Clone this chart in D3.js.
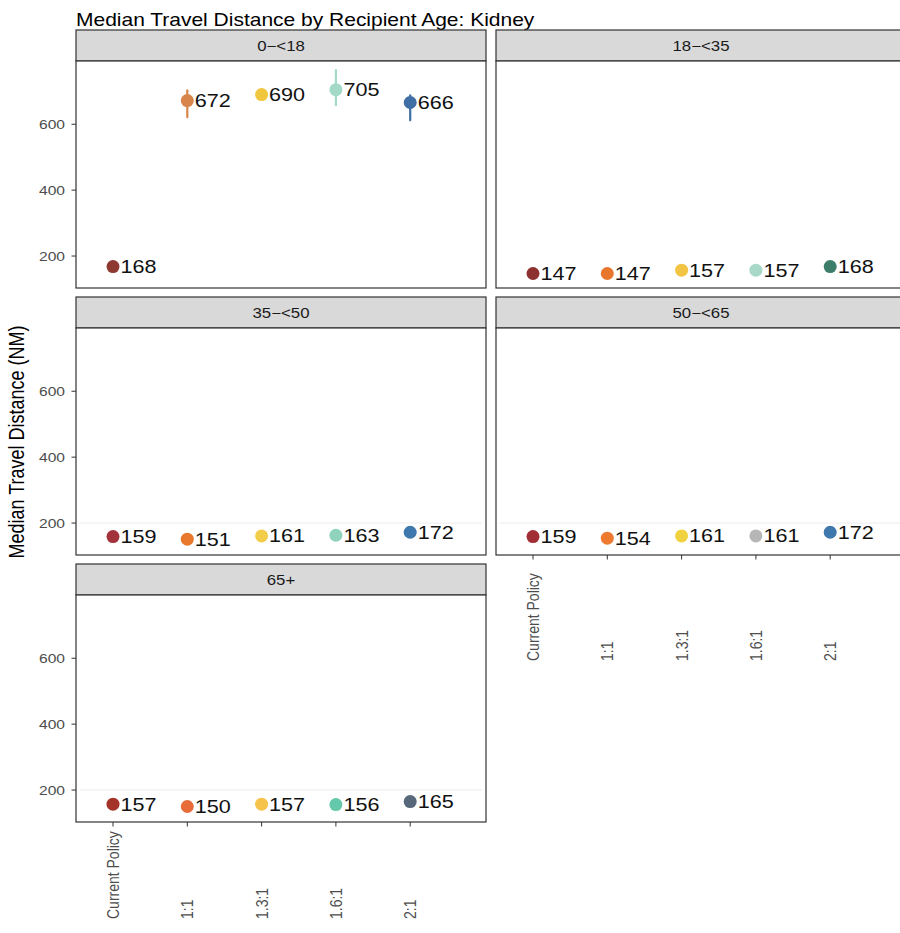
<!DOCTYPE html>
<html>
<head>
<meta charset="utf-8">
<script src="https://cdn.jsdelivr.net/npm/d3@7"></script>
<style>
  body { margin: 0; background: #fff; }
  svg { display: block; font-family: "Liberation Sans", Arial, Helvetica, sans-serif; }
</style>
</head>
<body>
<svg id="chart" width="900" height="933"></svg>
<script>
// ---- data ----
const ageGroups = ["0\u2212<18", "18\u2212<35", "35\u2212<50", "50\u2212<65", "65+"];
const policies = ["Current Policy", "1:1", "1.3:1", "1.6:1", "2:1"];

const dist_0_18  = [168, 672, 690, 705, 666];
const dist_18_35 = [147, 147, 157, 157, 168];
const dist_35_50 = [159, 151, 161, 163, 172];
const dist_50_65 = [159, 154, 161, 161, 172];
const dist_65up  = [157, 150, 157, 156, 165];

// interval bounds for the youngest group (the only ones that show beyond the dots)
const low_0_18  = [161, 621, 682, 658, 612];
const high_0_18 = [175, 703, 698, 764, 688];

const yTicks = [200, 400, 600];

// ---- colours per panel ----
const colors_0_18  = ["#8e3a31", "#d8854b", "#f1c63f", "#a3d9c7", "#3f6fa5"];
const colors_18_35 = ["#8d3030", "#e8772d", "#f3c444", "#a8d8c8", "#3d7e6b"];
const colors_35_50 = ["#a3333a", "#e8782b", "#f2cd49", "#8fd3bd", "#3f78ad"];
const colors_50_65 = ["#a12d35", "#ee7a2f", "#efd23e", "#b6b6b6", "#3f78ad"];
const colors_65up  = ["#a4332a", "#e86c3a", "#f6c34b", "#63c9aa", "#566879"];

const panels = [
  { age: ageGroups[0], values: dist_0_18,  lo: low_0_18, hi: high_0_18, colors: colors_0_18 },
  { age: ageGroups[1], values: dist_18_35, lo: null, hi: null, colors: colors_18_35 },
  { age: ageGroups[2], values: dist_35_50, lo: null, hi: null, colors: colors_35_50 },
  { age: ageGroups[3], values: dist_50_65, lo: null, hi: null, colors: colors_50_65 },
  { age: ageGroups[4], values: dist_65up,  lo: null, hi: null, colors: colors_65up }
];

// ---- layout ----
const SX = 1.2;              // horizontal text stretch
const colLeft = [76, 496];
const rowTop = [30, 297, 564];
const panelW = 410, stripH = 31, plotH = 227;
const border = "#333333";

const svg = d3.select("#chart");

const x = d3.scalePoint().domain(policies).range([37, 37 + 4 * 74.3]);
const y = d3.scaleLinear().domain([103, 792]).range([plotH, 0]);

function stretchedText(g, tx, ty, str, opts) {
  return g.append("text")
    .attr("transform", `translate(${tx},${ty}) scale(${SX},1)` + (opts.rotate ? ` rotate(${opts.rotate})` : ""))
    .attr("text-anchor", opts.anchor || "start")
    .attr("dy", opts.dy || null)
    .attr("font-size", opts.size)
    .attr("fill", opts.fill || "#000")
    .text(str);
}

// title
stretchedText(svg, 76, 26, "Median Travel Distance by Recipient Age: Kidney", { size: 17.5, fill: "#000" });

// y-axis title
stretchedText(svg, 24, 442, "Median Travel Distance (NM)", { size: 18, anchor: "middle", rotate: -90, fill: "#000" });

panels.forEach((p, i) => {
  const col = i % 2, row = Math.floor(i / 2);
  const left = colLeft[col], top = rowTop[row];
  const g = svg.append("g").attr("transform", `translate(${left},${top})`);

  // strip
  g.append("rect").attr("x", 0).attr("y", 0).attr("width", panelW).attr("height", stripH)
    .attr("fill", "#d9d9d9").attr("stroke", border).attr("stroke-width", 1.2);
  stretchedText(g, panelW / 2, stripH / 2, p.age, { size: 14, anchor: "middle", dy: "0.36em", fill: "#1a1a1a" });

  // plot area
  const pg = g.append("g").attr("transform", `translate(0,${stripH})`);
  pg.append("rect").attr("x", 0).attr("y", 0).attr("width", panelW).attr("height", plotH)
    .attr("fill", "#fff");

  // faint reference line at the lowest tick
  if (i >= 2) {
    pg.append("line").attr("x1", 4).attr("x2", panelW - 4)
      .attr("y1", y(yTicks[0])).attr("y2", y(yTicks[0]))
      .attr("stroke", "#ececec").attr("stroke-width", 1);
  }

  // intervals
  if (p.lo) {
    pg.selectAll("line.err").data(policies).join("line")
      .attr("class", "err")
      .attr("x1", d => x(d)).attr("x2", d => x(d))
      .attr("y1", (d, k) => y(p.lo[k])).attr("y2", (d, k) => y(p.hi[k]))
      .attr("stroke", (d, k) => p.colors[k])
      .attr("stroke-width", 2.2).attr("stroke-linecap", "round");
  }

  // points
  pg.selectAll("circle").data(policies).join("circle")
    .attr("cx", d => x(d)).attr("cy", (d, k) => y(p.values[k]))
    .attr("r", 6.5)
    .attr("fill", (d, k) => p.colors[k]);

  // value labels
  policies.forEach((d, k) => {
    stretchedText(pg, x(d) + 7.5, y(p.values[k]), String(p.values[k]),
      { size: 18, dy: "0.36em", fill: "#111" });
  });

  // frame
  pg.append("rect").attr("x", 0).attr("y", 0).attr("width", panelW).attr("height", plotH)
    .attr("fill", "none").attr("stroke", border).attr("stroke-width", 1.2);

  // y axis on the left column
  if (col === 0) {
    yTicks.forEach(t => {
      pg.append("line").attr("x1", -4.5).attr("x2", 0).attr("y1", y(t)).attr("y2", y(t))
        .attr("stroke", border).attr("stroke-width", 1);
      stretchedText(pg, -11, y(t), String(t), { size: 13, anchor: "end", dy: "0.36em", fill: "#4d4d4d" });
    });
  }

  // x axis under the bottom panel of each column
  if (i === 3 || i === 4) {
    const labelBase = i === 3 ? 106 : 97;
    policies.forEach(d => {
      pg.append("line").attr("x1", x(d)).attr("x2", x(d)).attr("y1", plotH).attr("y2", plotH + 4.5)
        .attr("stroke", border).attr("stroke-width", 1);
      stretchedText(pg, x(d), plotH + labelBase, d,
        { size: 14, rotate: -90, dy: "0.36em", fill: "#4d4d4d" });
    });
  }
});
</script>
</body>
</html>
